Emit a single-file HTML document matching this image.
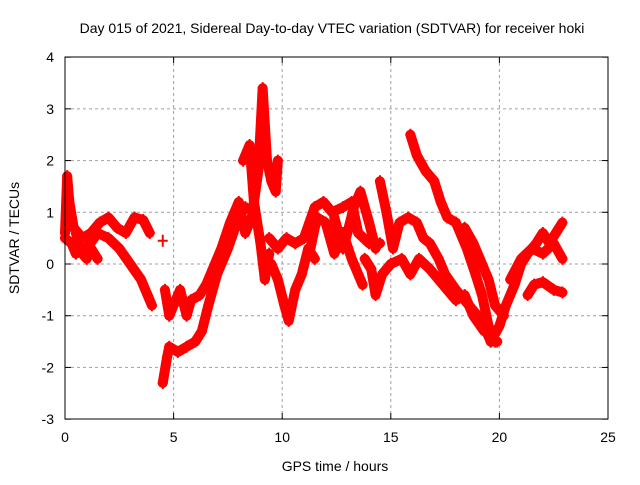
<!DOCTYPE html>
<html><head><meta charset="utf-8"><style>
body{margin:0;background:#fff;}
svg text{font-family:"Liberation Sans",sans-serif;font-size:14px;fill:#000;}
</style></head><body>
<svg id="c" width="640" height="480">
<text x="332" y="33" text-anchor="middle">Day 015 of 2021, Sidereal Day-to-day VTEC variation (SDTVAR) for receiver hoki</text>
<text x="335" y="471" text-anchor="middle">GPS time / hours</text>
<text transform="translate(19,238) rotate(-90)" text-anchor="middle">SDTVAR / TECUs</text>
<g id="grid"></g><g id="marks"></g>
<rect x="65" y="57" width="543" height="362" fill="none" stroke="#000" stroke-width="1"/>
</svg>
<script>
const xTicks=[0,5,10,15,20,25];
const yTicks=[-3,-2,-1,0,1,2,3,4];
const trackHours=[
[0,0.1,0.2,0.4,0.8,1.2,1.6,2,2.4,2.8,3.2,3.6,3.9],
[0,0.3,0.5,1,1.5,2,2.5,3,3.5,3.8,4.0],
[0.5,0.8,1.0,1.2,1.5],
[4.5,4.7,4.8,5.2,5.6,6,6.3,6.6,7,7.5,8,8.3],
[4.6,4.8,5,5.3,5.6,5.8,6.2,6.5,6.8,7.2,7.6,8,8.3,8.6,8.9,9.1,9.3,9.5,9.7,9.8],
[8.2,8.5,8.7,9,9.2,9.4],
[9.5,9.8,10.1,10.3,10.6,10.9,11.2,11.5],
[9.4,9.8,10.2,10.6,11,11.5,11.9,12.3,12.8,13.2,13.5,14,14.5],
[11.3,11.6,12,12.4,12.8,13.2,13.7],
[12.4,12.8,13,13.3,13.6,14,14.3],
[14.5,14.8,15.1,15.4,15.8,16.2,16.5,16.8,17.2,17.5,18,18.4,18.8,19.2,19.6,19.9],
[15.9,16.2,16.6,17,17.3,17.6,18,18.5,18.9,19.2,19.5,19.8],
[13.8,14.1,14.3,14.6,15,15.5,15.9,16.3,16.8,17.2,17.6,18,18.4,18.8,19.3],
[18.4,18.8,19.1,19.5,19.8,20.2],
[19.6,20,20.3,20.7,21,21.3,21.7,22,22.3,22.6,22.9],
[21.3,21.6,22,22.5,22.9],
[20.5,21,21.5,22,22.5,22.9],
[4.5]
];
const trackValues=[
[0.6,1.7,1.2,0.7,0.5,0.6,0.8,0.9,0.7,0.6,0.9,0.85,0.6],
[0.5,0.4,0.2,0.3,0.6,0.5,0.3,0,-0.3,-0.6,-0.8],
[0.6,0.2,0.1,0.3,0.1],
[-2.3,-1.8,-1.6,-1.7,-1.6,-1.5,-1.3,-0.8,-0.2,0.3,0.9,1.1],
[-0.5,-1,-0.8,-0.5,-1,-0.7,-0.6,-0.4,-0.1,0.3,0.8,1.2,0.6,0.9,1.8,3.4,2,1.6,1.4,2],
[2.0,2.3,1.2,0.4,-0.3,0.2],
[0,-0.3,-0.8,-1.1,-0.5,-0.2,0.3,0.1],
[0.5,0.3,0.5,0.4,0.5,1.1,1.2,1,1.1,1.2,0.6,0.4,0.4],
[0.3,0.9,0.8,0.2,0.6,0.1,-0.4],
[0.9,0.3,0.6,1.1,1.4,0.8,0.3],
[1.6,1.0,0.3,0.8,0.9,0.8,0.5,0.4,0.1,-0.2,-0.5,-0.7,-0.9,-1.1,-1.5,-1.5],
[2.5,2.1,1.8,1.6,1.2,0.9,0.8,0.3,-0.2,-0.6,-1.2,-1.5],
[0.1,-0.1,-0.6,-0.2,0,0.1,-0.2,0.1,-0.1,-0.3,-0.5,-0.7,-0.6,-1,-1.3],
[0.7,0.4,0.1,-0.3,-0.8,-1.0],
[-1.5,-1.2,-0.8,-0.4,0,0.2,0.4,0.6,0.4,0.6,0.8],
[-0.6,-0.4,-0.35,-0.5,-0.55],
[-0.3,0.1,0.3,0.2,0.4,0.1],
[0.45]
];
const X=h=>65+h*(543/25);
const Y=v=>264-v*(362/7);
const NS='http://www.w3.org/2000/svg';
const grid=document.getElementById('grid'),marks=document.getElementById('marks');
function mk(t,a,p){const e=document.createElementNS(NS,t);for(const k in a)e.setAttribute(k,a[k]);p.appendChild(e);return e;}
xTicks.forEach(t=>{
 const x=X(t);
 if(t>0&&t<25){const l=mk('line',{x1:x,x2:x,y1:57,y2:419,stroke:'#a0a0a0','stroke-dasharray':'3,3'},grid);
 
 }
 mk('line',{x1:x,x2:x,y1:419,y2:413,stroke:'#000'},grid);
 mk('line',{x1:x,x2:x,y1:57,y2:63,stroke:'#000'},grid);
 const tx=mk('text',{x:x,y:442,'text-anchor':'middle'},grid);tx.textContent=t;
 
 
});
yTicks.forEach(t=>{
 const y=Y(t);
 if(t>-3&&t<4){const l=mk('line',{x1:65,x2:608,y1:y,y2:y,stroke:'#a0a0a0','stroke-dasharray':'3,3'},grid);
 
 }
 mk('line',{x1:65,x2:71,y1:y,y2:y,stroke:'#000'},grid);
 mk('line',{x1:608,x2:602,y1:y,y2:y,stroke:'#000'},grid);
 const tx=mk('text',{x:54,y:y+5,'text-anchor':'end'},grid);tx.textContent=t;
 
 
});
trackHours.forEach((hs,i)=>{
 const vs=trackValues[i];
 const g=mk('g',{},marks);
 
 
 if(hs.length>1){mk('polyline',{points:hs.map((h,j)=>X(h)+','+Y(vs[j])).join(' '),fill:'none',stroke:'#ff0000','stroke-width':10,'stroke-linejoin':'round','stroke-linecap':'round'},g);}
 hs.forEach((h,j)=>{
  const x=X(h),y=Y(vs[j]);
  const p=mk('path',{d:`M${x-5},${y}H${x+5}M${x},${y-6}V${y+6}`,stroke:'#ff0000','stroke-width':2},g);
  
  
 });
});
</script>
</body></html>
